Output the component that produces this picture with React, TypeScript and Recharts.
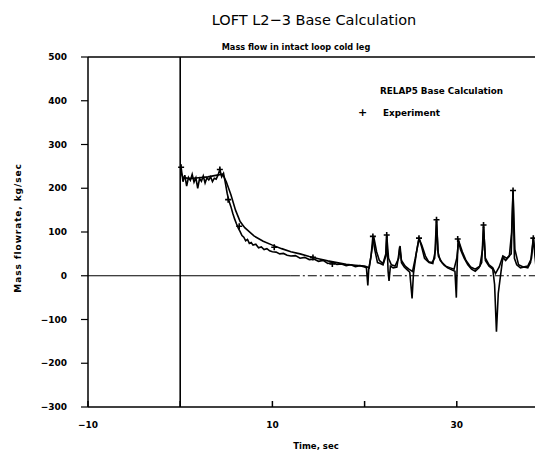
import React from 'react';
import { ComposedChart, Line, Scatter, XAxis, YAxis, ReferenceLine } from 'recharts';

const titleText = 'LOFT L2\u22123 Base Calculation';
const subtitleText = 'Mass flow in intact loop cold leg';
const yLabelText = 'Mass flowrate, kg/sec';
const xLabelText = 'Time, sec';
const legendCalc = 'RELAP5 Base Calculation';
const legendExp = 'Experiment';

const yTicks = [-300, -200, -100, 0, 100, 200, 300, 400, 500];
const xTicks = [-10, 0, 10, 20, 30];
const xLabeledTicks = [-10, 10, 30];

const calcTime = [0.1, 0.3, 1, 2, 3, 4, 4.6, 5.0, 5.5, 6.0, 6.5, 7, 8, 9, 10, 11, 12, 13, 14, 15, 16, 17, 18, 19, 20,
  20.3, 20.5, 20.8, 21.0, 21.3, 21.6, 22.0, 22.3, 22.4, 22.6, 22.9, 23.3, 23.7, 23.8, 24.0, 24.4, 24.8, 25.2, 25.5, 25.9,
  26.2, 26.6, 27.0, 27.4, 27.7, 27.8, 28.0, 28.4, 28.8, 29.3, 29.7, 30.0, 30.2, 30.6, 31.0, 31.5, 32.0, 32.5, 32.8, 32.9,
  33.1, 33.5, 33.9, 34.2, 34.6, 35.0, 35.4, 35.9, 36.1, 36.3, 36.7, 37.2, 37.7, 38.1, 38.3, 38.6, 39.0, 39.35];
const calcFlow = [235, 225, 222, 224, 226, 230, 232, 215, 185, 150, 124, 110, 91, 79, 70, 62, 55, 50, 44, 39, 34, 30, 26, 24, 22,
  20, 18, 60, 88, 55, 35, 28, 50, 92, 40, 25, 22, 40, 66, 35, 22, 15, 10, 40, 85,
  70, 45, 30, 28, 60, 125, 45, 30, 22, 18, 15, 40, 80, 55, 35, 20, 15, 22, 60, 112,
  40, 25, 18, 5, 20, 45, 40, 50, 190, 60, 25, 20, 22, 40, 85, 35, 25, 28];

const expTime = [0.1, 0.3, 0.5, 0.7, 0.9, 1.1, 1.3, 1.5, 1.7, 1.9, 2.1, 2.3, 2.5, 2.7, 2.9, 3.1, 3.3, 3.5, 3.7, 3.9, 4.1, 4.3, 4.5, 4.7,
  4.9, 5.1, 5.3, 5.5, 5.7, 5.9, 6.1, 6.3, 6.5, 6.7, 6.9, 7.1, 7.3, 7.5, 7.7, 7.9, 8.2, 8.5, 8.8, 9.1, 9.4, 9.7, 10, 10.4, 10.8,
  11.2, 11.6, 12, 12.5, 13, 13.5, 14, 14.5, 15, 15.5, 16, 16.5, 17, 17.5, 18, 18.5, 19, 19.5, 20,
  20.2, 20.35, 20.45, 20.7, 20.9, 21.1, 21.4, 21.7, 22.0, 22.3, 22.4, 22.55, 22.65, 22.8, 23.1, 23.5, 23.75, 23.85, 24.0,
  24.3, 24.6, 24.9, 25.15, 25.3, 25.6, 25.9, 26.2, 26.5, 26.9, 27.3, 27.6, 27.8, 27.95, 28.2, 28.6, 29.0, 29.4, 29.8,
  29.95, 30.05, 30.15, 30.4, 30.8, 31.2, 31.6, 32.0, 32.4, 32.7, 32.9, 33.1, 33.5, 33.9, 34.1, 34.3, 34.5, 34.8, 35.0,
  35.3, 35.7, 35.95, 36.1, 36.25, 36.5, 36.9, 37.3, 37.7, 38.0, 38.3, 38.5, 38.75, 38.9, 39.35];
const expFlow = [248, 215, 230, 205, 225, 218, 232, 214, 224, 200, 222, 216, 228, 212, 224, 219, 226, 215, 223, 221, 230, 243, 226, 234,
  212, 188, 170, 158, 143, 130, 119, 109, 101, 92, 88, 80, 83, 74, 76, 70, 72, 64, 66, 60, 62, 57, 55, 54, 50,
  51, 47, 45, 46, 40, 42, 37, 38, 33, 35, 28, 30, 26, 27, 23, 25, 21, 23, 20,
  18, -22, 15, 45, 90, 60, 30, 28, 25, 45, 93, 10, -12, 22, 18, 20, 55, 68, 30,
  20, 14, 8, -52, 5, 50, 86, 65, 40, 32, 30, 40, 128, 55, 35, 25, 18, 14, 10,
  -50, 30, 84, 60, 40, 25, 15, 10, 18, 30, 116, 35, 22, 15, -20, -128, -40, 10, 42,
  35, 45, 100, 195, 40, 25, 18, 20, 18, 30, 86, 40, -13, 20, 25];

const markerTime = [0.1, 4.3, 5.2, 6.4, 10.2, 14.4, 16.5, 20.9, 22.4, 25.9, 27.8, 30.1, 32.9, 36.1, 38.3];
const markerFlow = [248, 243, 174, 113, 65, 42, 27, 90, 93, 86, 128, 84, 116, 195, 86];

const calcData = calcTime.map((t, i) => ({ t, v: calcFlow[i] }));
const expData = expTime.map((t, i) => ({ t, v: expFlow[i] }));
const markerData = markerTime.map((t, i) => ({ t, v: markerFlow[i] }));

const fmt = (v: number) => (v < 0 ? '\u2212' + Math.abs(v) : String(v));
const font = "'DejaVu Sans', sans-serif";

const XTick = (props: any) => {
  const { x, y, payload } = props;
  const show = xLabeledTicks.includes(payload.value);
  return (
    <g>
      <line x1={x} x2={x} y1={y} y2={y - 6} stroke="#000" strokeWidth={1.5} />
      {show && (
        <text x={x} y={y + 18} textAnchor="middle" dominantBaseline="central" fontSize={9} fontWeight="bold" fontFamily={font} fill="#000">
          {fmt(payload.value)}
        </text>
      )}
    </g>
  );
};

const Plus = (props: any) => {
  const { cx, cy } = props;
  return <path d={`M${cx - 3},${cy}H${cx + 3}M${cx},${cy - 3}V${cy + 3}`} stroke="#000" strokeWidth={1.6} />;
};

export default function App() {
  return (
    <div style={{ position: 'relative', width: 535, height: 445, fontFamily: font, color: '#000' }}>
      <div style={{ position: 'absolute', left: 306, top: 12, transform: 'translate(-50%,-50%)', fontSize: 14.5, whiteSpace: 'nowrap' }}>{titleText}</div>
      <div style={{ position: 'absolute', left: 288, top: 39, transform: 'translate(-50%,-50%)', fontSize: 8.2, fontWeight: 'bold', whiteSpace: 'nowrap' }}>{subtitleText}</div>
      <div style={{ position: 'absolute', left: 10, top: 220, transform: 'translate(-50%,-50%) rotate(-90deg)', fontSize: 9, fontWeight: 'bold', letterSpacing: 0.9, whiteSpace: 'nowrap' }}>{yLabelText}</div>
      <div style={{ position: 'absolute', left: 308, top: 438, transform: 'translate(-50%,-50%)', fontSize: 8.5, fontWeight: 'bold', whiteSpace: 'nowrap' }}>{xLabelText}</div>
      <div style={{ position: 'absolute', left: 372, top: 78, fontSize: 8.8, fontWeight: 'bold', whiteSpace: 'nowrap', lineHeight: '10px' }}>{legendCalc}</div>
      <div style={{ position: 'absolute', left: 350, top: 99, fontSize: 11, fontWeight: 'bold', lineHeight: '12px' }}>+</div>
      <div style={{ position: 'absolute', left: 375, top: 100, fontSize: 8.8, fontWeight: 'bold', whiteSpace: 'nowrap', lineHeight: '10px' }}>{legendExp}</div>
      <div style={{ position: 'absolute', left: 0, top: 0 }}>
        <ComposedChart width={535} height={445} margin={{ top: 49, right: 0, bottom: 8, left: 0 }}>
          <XAxis
            type="number"
            dataKey="t"
            domain={[-10, 39.35]}
            ticks={xTicks}
            allowDataOverflow
            height={38}
            axisLine={{ stroke: '#000', strokeWidth: 1.5 }}
            tickLine={false}
            tickSize={0}
            tickMargin={0}
            tick={<XTick />}
            interval={0}
          />
          <YAxis
            type="number"
            dataKey="v"
            domain={[-300, 500]}
            ticks={yTicks}
            width={80}
            allowDataOverflow
            axisLine={{ stroke: '#000', strokeWidth: 1.5 }}
            tickLine={{ stroke: '#000', strokeWidth: 1.2 }}
            tickSize={7}
            tickMargin={14}
            tickFormatter={fmt}
            tick={{ fill: '#000', fontSize: 9, fontWeight: 'bold', fontFamily: font }}
            interval={0}
          />
          <ReferenceLine y={500} stroke="#000" strokeWidth={1.5} />
          <ReferenceLine x={0} stroke="#000" strokeWidth={1.6} />
          <ReferenceLine segment={[{ x: -10, y: 0 }, { x: 12, y: 0 }]} stroke="#000" strokeWidth={1.2} />
          <ReferenceLine segment={[{ x: 12, y: 0 }, { x: 39.35, y: 0 }]} stroke="#000" strokeWidth={1} strokeDasharray="9 3 2 3" />
          <Line data={calcData} dataKey="v" type="linear" stroke="#000" strokeWidth={1.6} dot={false} isAnimationActive={false} />
          <Line data={expData} dataKey="v" type="linear" stroke="#000" strokeWidth={1.6} dot={false} isAnimationActive={false} />
          <Scatter data={markerData} dataKey="v" shape={<Plus />} isAnimationActive={false} />
        </ComposedChart>
      </div>
    </div>
  );
}
